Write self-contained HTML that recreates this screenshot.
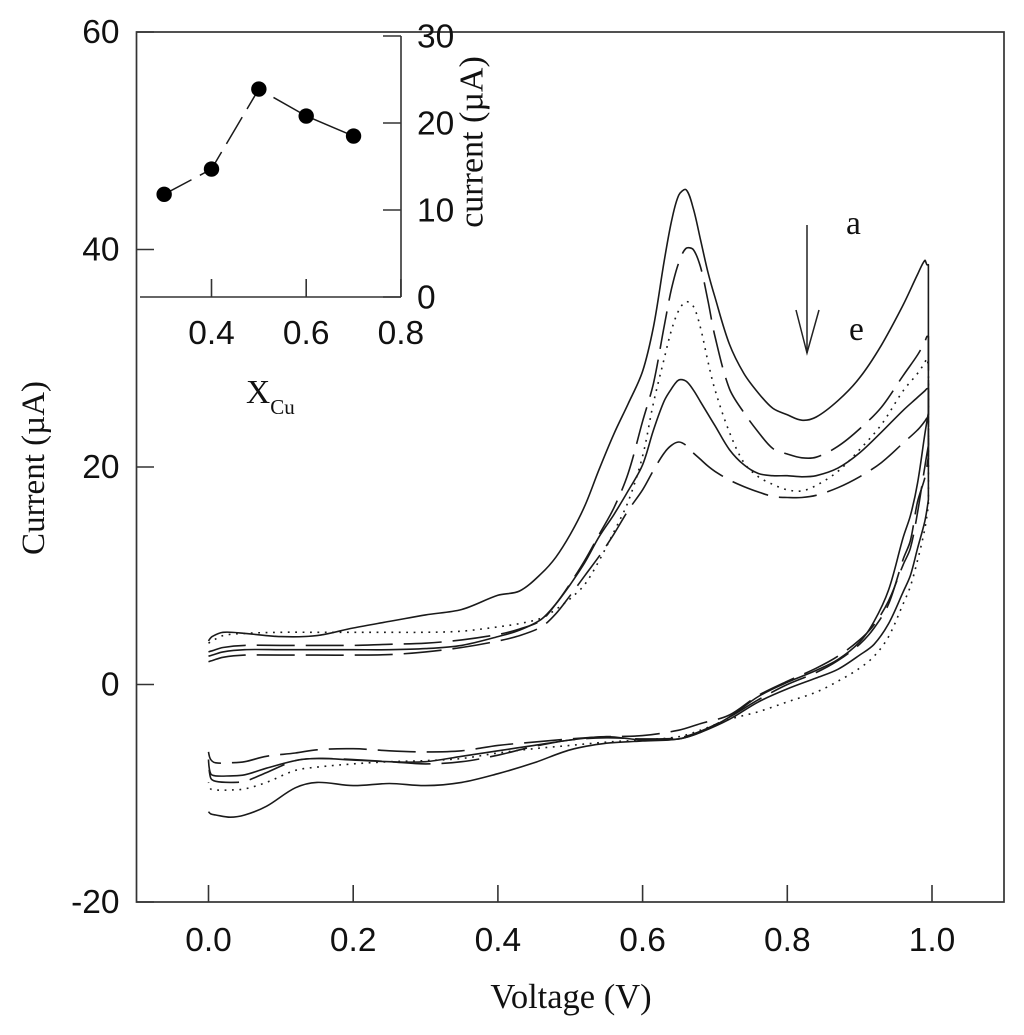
<!DOCTYPE html>
<html lang="en">
<head>
<meta charset="utf-8">
<title>Cyclic voltammograms</title>
<style>
html,body{margin:0;padding:0;background:#fff;}
svg{display:block;}
text{fill:#111;}
.sans{font-family:"Liberation Sans",sans-serif;font-size:33.5px;}
.serif{font-family:"Liberation Serif",serif;font-size:33.5px;}
</style>
</head>
<body>
<svg id="chart" xmlns="http://www.w3.org/2000/svg" width="1024" height="1035" viewBox="0 0 1024 1035">
  <rect x="0" y="0" width="1024" height="1035" fill="#fff"/>
  <rect x="136.5" y="32" width="867.5" height="870" fill="none" stroke="#333" stroke-width="1.7"/>
  <g id="main-axes"></g>
  <g id="series"></g>
  <g id="inset"></g>
  <text class="serif" x="571" y="1008" text-anchor="middle" style="font-size:34.5px">Voltage (V)</text>
  <text class="serif" transform="translate(44,468) rotate(-90)" text-anchor="middle" style="font-size:33px">Current (µA)</text>
  <text class="serif" transform="translate(482.5,142) rotate(-90)" text-anchor="middle" style="font-size:34px">current (µA)</text>
  <text class="serif" x="246" y="403">X<tspan font-size="21" dy="11">Cu</tspan></text>
  <text class="serif" x="846" y="234">a</text>
  <text class="serif" x="849" y="340">e</text>
  <g fill="none" stroke="#222" stroke-width="1.5">
    <line x1="807" y1="225" x2="807" y2="353"/>
    <polyline points="796,310 807,353 819,310"/>
  </g>
</svg>
<script>
// Main chart data
const xTicks = ["0.0", "0.2", "0.4", "0.6", "0.8", "1.0"];
const yTicks = ["-20", "0", "20", "40", "60"];

const voltageForward = [0,0.005,0.02,0.05,0.1,0.15,0.2,0.25,0.3,0.35,0.4,0.43,0.46,0.48,0.5,0.52,0.54,0.56,0.58,0.6,0.615,0.63,0.64,0.65,0.66,0.67,0.68,0.69,0.7,0.72,0.74,0.76,0.78,0.8,0.82,0.84,0.87,0.9,0.93,0.96,0.98,0.99,0.993];
const voltageReverse = [0.995,0.995,0.99,0.98,0.97,0.96,0.94,0.92,0.9,0.87,0.84,0.8,0.76,0.72,0.68,0.65,0.6,0.55,0.5,0.45,0.4,0.35,0.3,0.25,0.2,0.15,0.12,0.08,0.05,0.03,0.01,0.003,0];

const curveAForward = [4.0,4.4,4.8,4.7,4.4,4.5,5.2,5.8,6.4,6.9,8.2,8.6,10.2,11.7,13.8,16.4,19.8,23.0,25.8,28.8,32.9,39.0,42.6,45.0,45.5,43.8,40.9,38.0,35.6,31.3,28.6,26.8,25.4,24.8,24.3,24.6,26.1,28.2,31.2,34.9,37.7,39.0,38.6];
const curveAReverse = [38.6,17,15,12.5,10,8.5,5.6,3.7,2.7,1.4,0.6,-0.4,-1.6,-3.2,-4.4,-5,-5.2,-5.4,-6,-7.2,-8.2,-9,-9.3,-9.1,-9.3,-9,-9.5,-11.2,-12,-12.2,-12,-11.9,-11.7];

const curveBForward = [3.0,3.1,3.4,3.6,3.6,3.6,3.6,3.7,3.8,4.1,4.6,5.1,5.9,7.4,9.3,11.4,13.8,16.2,19.4,24.2,27.7,33.0,36.4,38.8,40.1,40.0,38.4,35.4,32,27.2,25,23.2,21.7,21.2,20.85,20.9,21.9,23.5,25.5,28.4,30.3,31.5,32];
const curveBReverse = [32,21,19,16.8,13.2,11.5,7.4,5.2,3.7,2.2,1.1,0,-1.4,-3,-4.3,-4.9,-5,-4.9,-5.1,-5.7,-6.5,-7.1,-7.3,-7.1,-6.9,-6.8,-7,-8.1,-8.9,-9,-8.9,-8.6,-7];

const curveCForward = [3.8,4.0,4.5,4.7,4.8,4.8,4.8,4.8,4.8,4.9,5.3,5.6,6.1,6.9,7.9,9.2,11.4,14.0,16.8,21,25.9,30,32.6,34.4,35.2,34.8,32.8,29.8,27.1,23.2,20.4,19.1,18.4,17.9,17.8,18.3,19.6,21.6,23.9,27,28.6,29.6,30];
const curveCReverse = [29,16.5,14.3,11.4,9,7.4,4.4,2.6,1.5,0.3,-0.7,-1.6,-2.5,-3.2,-4.2,-4.8,-5.1,-5.3,-5.6,-5.9,-6.3,-6.8,-7,-7.1,-7.3,-7.6,-7.9,-9,-9.6,-9.7,-9.7,-9.6,-9];

const curveDForward = [2.6,2.7,3.0,3.2,3.2,3.2,3.2,3.2,3.3,3.6,4.4,5.0,6.0,7.4,9.2,11.2,13.6,15.6,17.8,20.2,23.4,26.1,27.2,28,27.9,27.1,26,24.9,23.8,21.6,20.2,19.4,19.2,19.2,19.1,19.2,19.9,21.3,23.2,25.2,26.4,27,27.2];
const curveDReverse = [27.2,25,23,18.5,15.5,13.5,8.7,5.8,3.9,2.3,1.3,0.2,-1.1,-3,-4.4,-5,-5.1,-4.8,-5.1,-5.6,-6.1,-6.6,-7.1,-7.1,-6.95,-6.8,-7,-7.7,-8.3,-8.4,-8.4,-8.2,-6.9];

const curveEForward = [2.1,2.2,2.5,2.7,2.7,2.7,2.7,2.75,3.0,3.4,4.0,4.5,5.3,6.5,8.2,10,11.8,13.8,16,17.9,19.7,21.3,22,22.3,22,21.3,20.7,20.1,19.6,18.8,18.2,17.7,17.3,17.2,17.2,17.4,18.1,19.1,20.4,22.2,23.4,24.2,24.5];
const curveEReverse = [24.5,22,20,15.8,12.5,11,7.7,5.5,4.1,2.6,1.5,0.3,-1,-2.8,-3.6,-4.2,-4.7,-4.8,-5,-5.3,-5.6,-6.1,-6.2,-6.1,-5.9,-6,-6.3,-6.6,-7.1,-7.2,-7.2,-6.9,-6.2];

// Inset data
const insetFractions = [0.3, 0.4, 0.5, 0.6, 0.7];
const insetCurrents = [11.8, 14.7, 23.9, 20.8, 18.5];
const insetXTicks = ["0.4", "0.6", "0.8"];
const insetYTicks = ["0", "10", "20", "30"];

const NS = 'http://www.w3.org/2000/svg';
function mainX(v) { return 208.5 + v * 723.5; }
function mainY(i) { return 684.5 - i * 10.875; }
function insetX(f) { return 211.5 + (f - 0.4) * 473.5; }
function insetY(i) { return 297 - i * 8.7; }
function make(tag, attrs, parent) {
  const el = document.createElementNS(NS, tag);
  for (const k in attrs) el.setAttribute(k, attrs[k]);
  parent.appendChild(el);
  return el;
}

const mainAxes = document.getElementById('main-axes');
xTicks.forEach(function (t) {
  const x = mainX(parseFloat(t));
  const tick = make('line', {x1: x, x2: x, y1: 902, y2: 885, stroke: '#333', 'stroke-width': 1.6}, mainAxes);
  
  
  const label = make('text', {x: x, y: 951, 'text-anchor': 'middle', class: 'sans'}, mainAxes);
  label.textContent = t;
  
  
});
yTicks.forEach(function (t) {
  const y = mainY(parseFloat(t));
  const tick = make('line', {x1: 136.5, x2: 154, y1: y, y2: y, stroke: '#333', 'stroke-width': 1.6}, mainAxes);
  
  
  const label = make('text', {x: 119.5, y: y + 11, 'text-anchor': 'end', class: 'sans'}, mainAxes);
  label.textContent = t;
  
  
});

const voltage = voltageForward.concat(voltageReverse);
const seriesGroup = document.getElementById('series');

// Smooth path through the mapped points, with a hard corner at the scan reversal.
function smoothPath(pts, cornerIndex) {
  function tangent(i) {
    if (i === 0 || i === pts.length - 1 || i === cornerIndex || i === cornerIndex + 1) return [0, 0];
    const a = pts[i - 1], b = pts[i], c = pts[i + 1];
    const d1 = Math.hypot(b[0] - a[0], b[1] - a[1]);
    const d2 = Math.hypot(c[0] - b[0], c[1] - b[1]);
    const s = d1 + d2 || 1;
    return [(c[0] - a[0]) / s, (c[1] - a[1]) / s];
  }
  let d = 'M' + pts[0][0].toFixed(1) + ' ' + pts[0][1].toFixed(1);
  for (let i = 0; i < pts.length - 1; i++) {
    const p = pts[i], q = pts[i + 1];
    const len = Math.hypot(q[0] - p[0], q[1] - p[1]) / 3;
    const t0 = tangent(i), t1 = tangent(i + 1);
    d += 'C' + (p[0] + t0[0] * len).toFixed(1) + ' ' + (p[1] + t0[1] * len).toFixed(1) + ' ' +
         (q[0] - t1[0] * len).toFixed(1) + ' ' + (q[1] - t1[1] * len).toFixed(1) + ' ' +
         q[0].toFixed(1) + ' ' + q[1].toFixed(1);
  }
  return d;
}

function drawCurve(name, forward, reverse, dash) {
  const current = forward.concat(reverse);
  const pts = current.map(function (val, idx) { return [mainX(voltage[idx]), mainY(val)]; });
  const p = make('path', {d: smoothPath(pts, forward.length), fill: 'none', stroke: '#1a1a1a', 'stroke-width': 1.6, 'stroke-linejoin': 'round'}, seriesGroup);
  if (dash) p.setAttribute('stroke-dasharray', dash);
  
  
}
drawCurve('curve-a', curveAForward, curveAReverse, null);
drawCurve('curve-b', curveBForward, curveBReverse, '38 11');
drawCurve('curve-c', curveCForward, curveCReverse, '1.8 5.6');
drawCurve('curve-d', curveDForward, curveDReverse, null);
drawCurve('curve-e', curveEForward, curveEReverse, '38 11');

const inset = document.getElementById('inset');
const insetBottom = make('line', {x1: 140, x2: 401, y1: 297, y2: 297, stroke: '#333', 'stroke-width': 1.6}, inset);


const insetRight = make('line', {x1: 401, x2: 401, y1: insetY(30), y2: 297, stroke: '#333', 'stroke-width': 1.6}, inset);


insetXTicks.forEach(function (t) {
  const x = insetX(parseFloat(t));
  const tick = make('line', {x1: x, x2: x, y1: 297, y2: 279, stroke: '#333', 'stroke-width': 1.6}, inset);
  
  
  const label = make('text', {x: x, y: 344, 'text-anchor': 'middle', class: 'sans'}, inset);
  label.textContent = t;
  
  
});
insetYTicks.forEach(function (t) {
  const y = insetY(parseFloat(t));
  const tick = make('line', {x1: 383, x2: 401, y1: y, y2: y, stroke: '#333', 'stroke-width': 1.6}, inset);
  
  
  const label = make('text', {x: 417, y: y + 11.5, 'text-anchor': 'start', class: 'sans'}, inset);
  label.textContent = t;
  
  
});
let insetD = '';
insetFractions.forEach(function (f, idx) {
  insetD += (idx ? 'L' : 'M') + insetX(f).toFixed(1) + ' ' + insetY(insetCurrents[idx]).toFixed(1);
});
const insetLine = make('path', {d: insetD, fill: 'none', stroke: '#1a1a1a', 'stroke-width': 1.5, 'stroke-dasharray': '31 9.5 33 9.5 31 9.5 30 10 300'}, inset);


insetFractions.forEach(function (f, idx) {
  const dot = make('circle', {cx: insetX(f), cy: insetY(insetCurrents[idx]), r: 7.7, fill: '#000'}, inset);
  
  
});
</script>
</body>
</html>
